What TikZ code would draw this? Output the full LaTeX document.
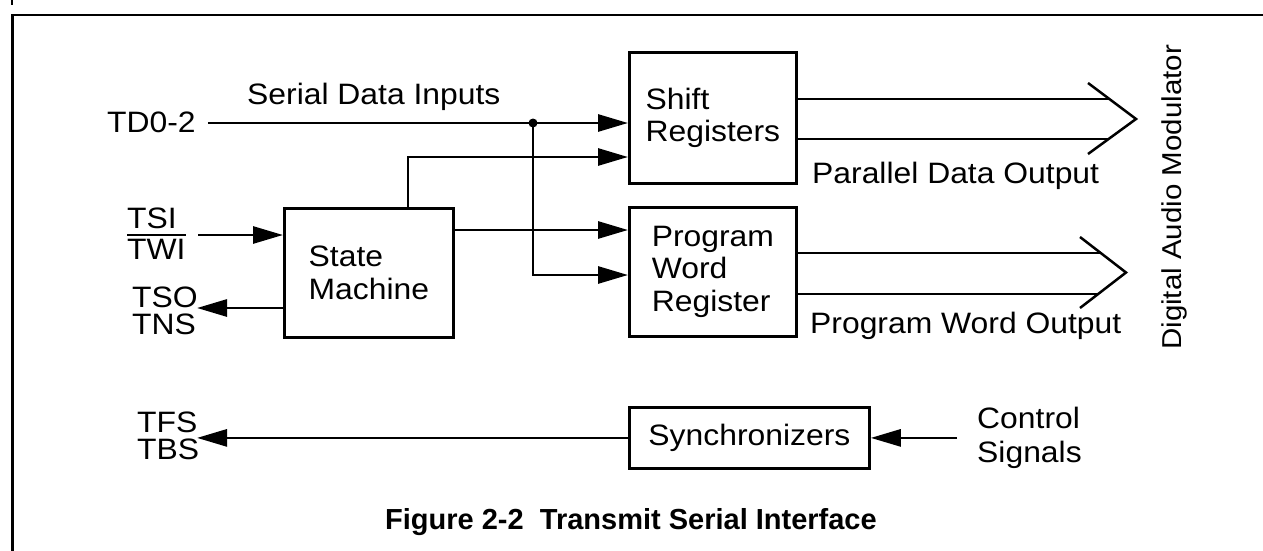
\documentclass[tikz,border=0pt]{standalone}
\usepackage{fontspec}
\setmainfont{Liberation Sans}[FakeStretch=1.08]
\newfontfamily\headfont{Liberation Sans}
\usetikzlibrary{arrows.meta}
\begin{document}
\begin{tikzpicture}[x=1pt,y=-1pt,
  every node/.style={font=\fontsize{29.5}{32.5}\selectfont},
  blk/.style={draw, line width=2.8pt, inner sep=0pt, align=left, anchor=north west},
  wire/.style={line width=2.8pt},
  sig/.style={wire, -{Triangle[length=30pt,width=17pt]}},
  bus/.style={line width=2.5pt},
  lbl/.style={anchor=base west, inner sep=0pt},
  pair/.style={anchor=west, inner sep=0pt, align=left, font=\fontsize{29.5}{27}\selectfont},
]
\useasboundingbox (0,0) rectangle (1263,551);

% page frame
\draw[line width=3pt] (12.5,551) -- (12.5,15);
\draw[line width=2pt] (11,15) -- (1263,15);
\draw[line width=2pt] (12,0) -- (12,5);

% function blocks
\node[blk, minimum width=167pt, minimum height=131pt] (shift) at (628,51) {Shift\\Registers};
\node[blk, minimum width=167pt, minimum height=129pt] (pwr) at (628,206) {Program\\Word\\Register};
\node[blk, minimum width=169pt, minimum height=129pt] (sm) at (283,207) {State\\Machine};
\node[blk, minimum width=240pt, minimum height=61pt] (sync) at (628,406) {Synchronizers};

% signal names and labels
\node[lbl] (td) at (107,132) {TD0-2};
\node[lbl] (sdi) at (247,104) {Serial Data Inputs};
\node[lbl] (tsi) at (127,228) {TSI};
\node[lbl] (twi) at (127,259) {TWI};
\draw[line width=2pt] ([yshift=4pt]twi.north west) -- ([yshift=4pt]twi.north east);
\node[pair] (tso) at (132,311) {TSO\\TNS};
\node[pair] (tfs) at (137,436) {TFS\\TBS};
\node[lbl] (pdo) at (812,183) {Parallel Data Output};
\node[lbl] (pwo) at (810,333) {Program Word Output};
\node[lbl] (ctl) at (977,428) {Control};
\node[lbl] (sgn) at (977,462) {Signals};
\node[lbl, rotate=90, font=\fontsize{27.3}{30}\selectfont] (dam) at (1181,350) {Digital Audio Modulator};
\node[lbl, font=\headfont\bfseries\fontsize{29}{30}\selectfont] (title) at (385,529) {Figure 2-2\ \ Transmit Serial Interface};

% routing points
\coordinate (tdo) at ([xshift=12pt]td.east);
\coordinate (j) at (533,123);
\coordinate (jb) at (533,275);
\coordinate (smt) at (408,157);
\coordinate (smo) at (452,230);
\coordinate (tsit) at (198,235);
\coordinate (tsoin) at (197,308);
\coordinate (tfsin) at (197,436);
\coordinate (ctlt) at (957,436);

% serial data inputs
\draw[wire] (tdo |- j) -- (j);
\draw[sig] (j) -- (j -| shift.west);
\draw[sig] (j) -- (jb) -- (jb -| pwr.west);
\fill (j) circle (4.5pt);

% state machine connections
\draw[sig] (sm.north -| smt) -- (smt) -- (smt -| shift.west);
\draw[sig] (smo -| sm.east) -- (smo -| pwr.west);
\draw[sig] (tsit) -- (tsit -| sm.west);
\draw[sig] (tsoin -| sm.west) -- (tsoin);

% synchronizers
\draw[sig] (sync.west) -- (sync.west -| tfsin);
\draw[sig] (sync.east -| ctlt) -- (sync.east);

% parallel data bus
\coordinate (b1t) at (1088,83);
\coordinate (b1p) at (1136,119);
\coordinate (b1b) at (1088,154);
\coordinate (b1u) at (1109,99);
\coordinate (b1l) at (1109,139);
\draw[bus] (b1t) -- (b1p) -- (b1b);
\draw[wire] (b1u -| shift.east) -- (b1u);
\draw[wire] (b1l -| shift.east) -- (b1l);

% program word bus
\coordinate (b2t) at (1080,237);
\coordinate (b2p) at (1126,272.5);
\coordinate (b2b) at (1080,308);
\coordinate (b2u) at (1101,253);
\coordinate (b2l) at (1098,294);
\draw[bus] (b2t) -- (b2p) -- (b2b);
\draw[wire] (b2u -| pwr.east) -- (b2u);
\draw[wire] (b2l -| pwr.east) -- (b2l);
\end{tikzpicture}
\end{document}
